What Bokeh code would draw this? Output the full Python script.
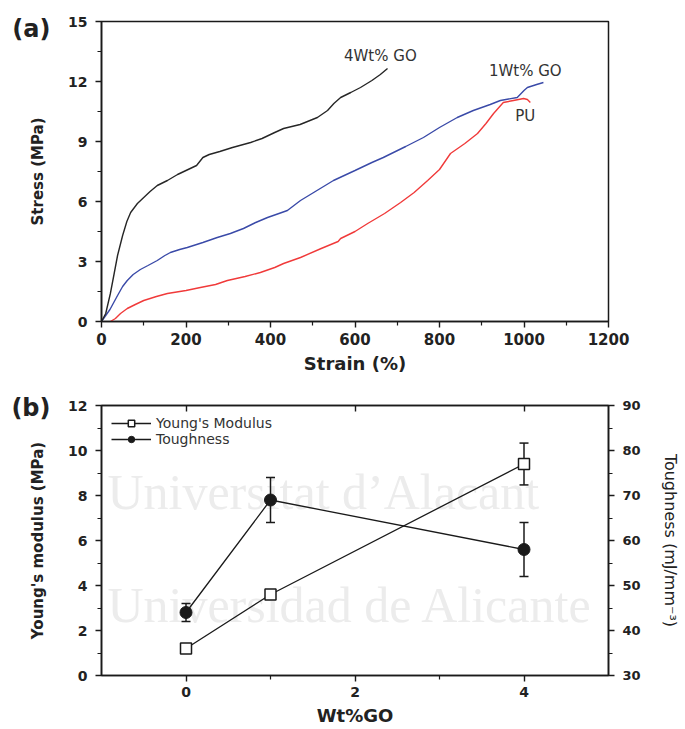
from bokeh.plotting import figure
from bokeh.layouts import column
from bokeh.models import (LinearAxis, Range1d, FixedTicker, Label, Legend, LegendItem)
from bokeh.embed import file_html
from bokeh.resources import INLINE

# ---------------- data: panel (a) stress-strain ----------------
go4_strain = [0, 10, 21, 30, 38, 50, 60, 69, 85, 100, 115, 132, 156, 180, 200, 225, 240, 255,
              280, 310, 353, 380, 410, 431, 470, 511, 535, 550, 566, 590, 613, 640, 660, 677]
go4_stress = [0, 0.4, 1.4, 2.4, 3.3, 4.3, 5.0, 5.45, 5.9, 6.2, 6.5, 6.8, 7.05, 7.35, 7.55, 7.8, 8.2, 8.35,
              8.5, 8.7, 8.95, 9.15, 9.45, 9.65, 9.85, 10.2, 10.55, 10.9, 11.2, 11.45, 11.7, 12.05, 12.35, 12.65]

go1_strain = [0, 5, 20, 38, 50, 61, 75, 92, 110, 132, 150, 163, 185, 203, 240, 274, 305, 336, 365, 393,
              420, 440, 471, 510, 549, 600, 640, 667, 720, 762, 800, 842, 880, 920, 944, 984, 1000, 1008, 1030, 1046]
go1_stress = [0, 0.15, 0.6, 1.3, 1.75, 2.05, 2.35, 2.6, 2.8, 3.05, 3.3, 3.45, 3.6, 3.7, 3.95, 4.2, 4.4, 4.65, 4.95, 5.2,
              5.4, 5.55, 6.05, 6.55, 7.05, 7.55, 7.95, 8.2, 8.75, 9.2, 9.7, 10.2, 10.55, 10.85, 11.05, 11.2, 11.55, 11.7, 11.85, 11.95]

pu_strain = [21, 33, 45, 61, 80, 100, 130, 156, 200, 234, 270, 298, 340, 376, 410, 431, 471, 520, 560, 566,
             600, 630, 670, 708, 740, 772, 800, 826, 860, 890, 910, 928, 951, 975, 999, 1008, 1015]
pu_stress = [0, 0.15, 0.4, 0.65, 0.85, 1.05, 1.25, 1.4, 1.55, 1.7, 1.85, 2.05, 2.25, 2.45, 2.7, 2.9, 3.2, 3.65, 4.0, 4.15,
             4.5, 4.9, 5.4, 5.95, 6.45, 7.05, 7.6, 8.4, 8.9, 9.4, 9.9, 10.4, 10.95, 11.05, 11.15, 11.1, 10.95]

curve_names = ["4Wt% GO", "1Wt% GO", "PU"]
curve_label_x = [660, 1003, 1003]
curve_label_y = [13.3, 12.55, 10.3]

a_x_ticks = [0, 200, 400, 600, 800, 1000, 1200]
a_x_minor = [100, 300, 500, 700, 900, 1100]
a_y_ticks = [0, 3, 6, 9, 12, 15]
a_y_minor = [1.5, 4.5, 7.5, 10.5, 13.5]
panel_a_tag = "(a)"
panel_a_tag_y = 14.65

# ---------------- data: panel (b) ----------------
wt_go = [0, 1, 4]
modulus = [1.2, 3.6, 9.4]
modulus_err = [0.15, 0.1, 0.93]
toughness = [44.0, 69.0, 58.0]
toughness_err = [2.0, 5.0, 6.0]

b_x_ticks = [0, 2, 4]
b_x_minor = [1, 3]
b_y_ticks = [0, 2, 4, 6, 8, 10, 12]
b_y_minor = [1, 3, 5, 7, 9, 11]
b_y2_ticks = [30, 40, 50, 60, 70, 80, 90]
b_y2_minor = [35, 45, 55, 65, 75, 85]
panel_b_tag = "(b)"
panel_b_tag_y = 11.87

watermark_lines = ["Universitat d\u2019Alacant", "Universidad de Alicante"]
watermark_x = [-0.93, -0.93]
watermark_y = [6.9, 1.91]

FONT = "DejaVu Sans"
INK = "#1a1a1a"


def style_axis(ax, tick_size, label_size, bold_label=True):
    ax.axis_line_width = 1.6
    ax.axis_line_color = INK
    ax.major_tick_line_width = 1.4
    ax.minor_tick_line_width = 1.2
    ax.major_tick_line_color = INK
    ax.minor_tick_line_color = INK
    ax.major_tick_out = 6
    ax.major_tick_in = 0
    ax.minor_tick_out = 4
    ax.minor_tick_in = 0
    ax.major_label_text_font = FONT
    ax.major_label_text_font_style = "bold"
    ax.major_label_text_font_size = tick_size
    ax.major_label_text_color = "#222222"
    ax.axis_label_text_font = FONT
    ax.axis_label_text_font_style = "bold" if bold_label else "normal"
    ax.axis_label_text_font_size = label_size
    ax.axis_label_text_color = "#222222"


def tag_axis(tick, text):
    ax = LinearAxis(ticker=FixedTicker(ticks=[tick], minor_ticks=[]),
                    major_label_overrides={tick: text})
    ax.axis_line_color = None
    ax.major_tick_line_color = None
    ax.minor_tick_line_color = None
    ax.major_tick_out = 0
    ax.major_tick_in = 0
    ax.major_label_standoff = -24
    ax.major_label_text_font = FONT
    ax.major_label_text_font_style = "bold"
    ax.major_label_text_font_size = "24px"
    ax.major_label_text_color = "#222222"
    return ax


# ================= panel (a) =================
p1 = figure(width=685, height=385, x_range=Range1d(0, 1200), y_range=Range1d(0, 15),
            output_backend="svg", toolbar_location=None,
            min_border_left=101, min_border_right=77, min_border_top=21, min_border_bottom=64)
p1.grid.visible = False
p1.outline_line_color = INK
p1.outline_line_width = 1.5
p1.xaxis.ticker = FixedTicker(ticks=a_x_ticks, minor_ticks=a_x_minor)
p1.yaxis.ticker = FixedTicker(ticks=a_y_ticks, minor_ticks=a_y_minor)
p1.xaxis.axis_label = "Strain (%)"
p1.yaxis.axis_label = "Stress (MPa)"
style_axis(p1.xaxis[0], "15px", "18px")
style_axis(p1.yaxis[0], "14px", "15px")
p1.xaxis.major_label_standoff = 5
p1.xaxis.axis_label_standoff = 5
p1.yaxis.major_label_standoff = 8
p1.yaxis.axis_label_standoff = 18
p1.add_layout(tag_axis(panel_a_tag_y, panel_a_tag), "left")

p1.line(pu_strain, pu_stress, line_color="#f03a3a", line_width=1.4)
p1.line(go1_strain, go1_stress, line_color="#3a4aa8", line_width=1.4)
p1.line(go4_strain, go4_stress, line_color="#262626", line_width=1.4)

for name, lx, ly in zip(curve_names, curve_label_x, curve_label_y):
    p1.add_layout(Label(x=lx, y=ly, text=name, text_font=FONT, text_font_size="15px",
                        text_color="#333333", text_align="center", text_baseline="middle"))

# ================= panel (b) =================
p2 = figure(width=685, height=344, x_range=Range1d(-1, 5), y_range=Range1d(0, 12),
            output_backend="svg", toolbar_location=None,
            min_border_left=100, min_border_right=77, min_border_top=20, min_border_bottom=54)
p2.grid.visible = False
p2.outline_line_color = INK
p2.outline_line_width = 1.5
p2.extra_y_ranges = {"tough": Range1d(30, 90)}

for txt, wx, wy in zip(watermark_lines, watermark_x, watermark_y):
    p2.add_layout(Label(x=wx, y=wy, text=txt, text_font="Liberation Serif", text_font_size="50px",
                        text_color="#ececec", level="annotation"))

p2.xaxis.ticker = FixedTicker(ticks=b_x_ticks, minor_ticks=b_x_minor)
p2.yaxis.ticker = FixedTicker(ticks=b_y_ticks, minor_ticks=b_y_minor)
p2.xaxis.axis_label = "Wt%GO"
p2.yaxis.axis_label = "Young's modulus (MPa)"
style_axis(p2.xaxis[0], "14px", "18px")
style_axis(p2.yaxis[0], "14px", "15px")
p2.xaxis.major_label_standoff = 5
p2.xaxis.axis_label_standoff = 5
p2.yaxis.major_label_standoff = 8
p2.yaxis.axis_label_standoff = 18
p2.add_layout(tag_axis(panel_b_tag_y, panel_b_tag), "left")

top_ax = LinearAxis(ticker=FixedTicker(ticks=b_x_ticks, minor_ticks=[]))
style_axis(top_ax, "0px", "0px")
top_ax.major_tick_out = 0
top_ax.major_tick_in = 6
top_ax.major_label_text_alpha = 0
top_ax.major_label_standoff = 0
p2.add_layout(top_ax, "above")

right_ax = LinearAxis(y_range_name="tough", axis_label="Toughness (mJ/mm\u207b\u00b3)",
                      ticker=FixedTicker(ticks=b_y2_ticks, minor_ticks=b_y2_minor))
style_axis(right_ax, "13px", "16px", bold_label=False)
right_ax.major_label_standoff = 8
right_ax.axis_label_standoff = 17
p2.add_layout(right_ax, "right")

# error bars
mod_lo = [m - e for m, e in zip(modulus, modulus_err)]
mod_hi = [m + e for m, e in zip(modulus, modulus_err)]
t_lo = [t - e for t, e in zip(toughness, toughness_err)]
t_hi = [t + e for t, e in zip(toughness, toughness_err)]

rs = []
rs.append(p2.segment(x0=wt_go, y0=mod_lo, x1=wt_go, y1=mod_hi, line_color=INK, line_width=1.5))
rs.append(p2.scatter(wt_go + wt_go, mod_lo + mod_hi, marker="dash", size=9, line_color=INK, line_width=1.5))
rs.append(p2.segment(x0=wt_go, y0=t_lo, x1=wt_go, y1=t_hi, line_color=INK, line_width=1.5,
                     y_range_name="tough"))
rs.append(p2.scatter(wt_go + wt_go, t_lo + t_hi, marker="dash", size=9, line_color=INK, line_width=1.5,
                     y_range_name="tough"))

lm = p2.line(wt_go, modulus, line_color=INK, line_width=1.3)
sm = p2.scatter(wt_go, modulus, marker="square", size=11, fill_color="white",
                line_color=INK, line_width=1.5)
lt = p2.line(wt_go, toughness, line_color=INK, line_width=1.3, y_range_name="tough")
st = p2.scatter(wt_go, toughness, marker="circle", size=12, fill_color=INK,
                line_color=INK, y_range_name="tough")
for r in rs + [lm, sm, lt, st]:
    r.level = "overlay"

legend = Legend(items=[LegendItem(label="Young's Modulus", renderers=[lm, sm]),
                       LegendItem(label="Toughness", renderers=[lt, st])],
                location="top_left", margin=8, padding=2, spacing=0,
                glyph_width=40, glyph_height=16, label_height=16, label_standoff=5,
                label_text_font=FONT, label_text_font_size="14px", label_text_color="#333333",
                border_line_alpha=0, background_fill_alpha=0)
p2.add_layout(legend)

layout = column(p1, p2, spacing=0)
open("out.html", "w").write(file_html(layout, INLINE))
